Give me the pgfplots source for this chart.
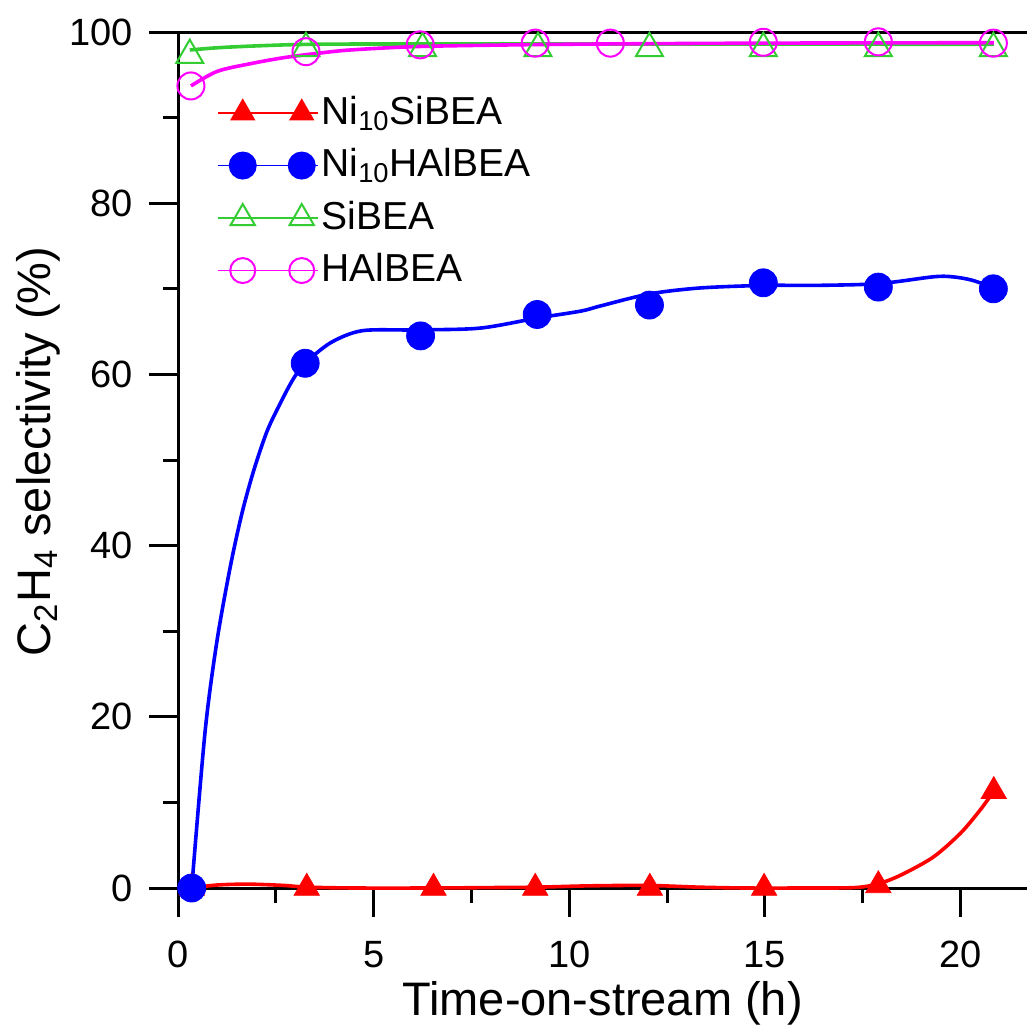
\documentclass[border=0pt]{standalone}
\usepackage{pgfplots}
\pgfplotsset{compat=1.18}
\usepackage{fontspec}
\setmainfont{Liberation Sans}
\definecolor{cred}{RGB}{255,0,0}
\definecolor{cblue}{RGB}{0,0,255}
\definecolor{cgreen}{RGB}{51,204,51}
\definecolor{cmag}{RGB}{255,0,255}
\pgfplotsset{
  legtwo/.style n args={3}{legend image code/.code={
    \draw[#1, line width=0.75pt] (0pt,5.5pt) -- (50pt,5.5pt);
    \draw[#1, only marks, mark=#2, mark size=#3, mark options={solid, line width=1pt}] plot coordinates {(12.5pt,5.5pt) (42pt,5.5pt)};}},
}
\begin{document}
\begin{tikzpicture}
\begin{axis}[
  scale only axis, width=424.5pt, height=428pt,
  xmin=0, xmax=21.7, ymin=0, ymax=100,
  axis x line=bottom, axis y line=left,
  axis line style={-, line width=1.5pt},
  clip=false,
  xtick={0,5,10,15,20}, minor x tick num=1,
  ytick={0,20,40,60,80,100}, minor y tick num=1,
  tick align=outside, xtick align=outside, ytick align=outside,
  major tick length=14.5pt, minor tick length=7.5pt,
  tick style={black, line width=1.5pt},
  /pgf/number format/assume math mode=true,
  tick label style={font=\fontsize{19}{22}\selectfont},
  xticklabel style={anchor=base, inner sep=0pt, yshift=-25pt},
  yticklabel style={anchor=east, inner sep=0pt, xshift=-8pt},
  label style={font=\fontsize{23.5}{28}\selectfont},
  xlabel={Time-on-stream (h)},
  ylabel={C\textsubscript{2}H\textsubscript{4} selectivity (\%)},
  xlabel style={at={(rel axis cs:0.5,-0.1484)}, anchor=base},
  ylabel style={at={(rel axis cs:-0.1508,0.51)}, anchor=base},
  legend style={
    at={(rel axis cs:0.0459,0.9252)}, anchor=north west,
    draw=none, fill=none, inner sep=0pt, outer sep=0pt,
    row sep=7.25pt, column sep=1.5pt,
    font=\fontsize{19.5}{23}\selectfont,
    nodes={anchor=base west, inner sep=0pt, text height=14pt, text depth=5pt},
  },
]
% red markers (Ni10SiBEA)
\addplot[only marks, mark=triangle*, mark size=7.3pt, color=cred,
  legtwo={cred}{triangle*}{6.35pt}]
  coordinates {(0.35,0) (3.29,0) (6.53,0) (9.13,0) (12.06,0) (14.98,0) (17.9,0.3) (20.85,11.3)};
% blue curve
\addplot[cblue, line width=1.8pt, smooth, tension=0.5, forget plot] coordinates {
  (0.35,0) (0.69,18.2) (0.99,28.7) (1.33,37.4) (1.63,43.7) (1.93,48.7) (2.27,53.3)
  (2.61,56.6) (2.95,59.5) (3.25,61.3)
  (3.9,63.7) (4.7,65.1) (6.0,65.2) (7.7,65.4) (9.2,66.6) (10.3,67.4) (10.8,68.0)
  (12.05,69.4) (13.35,70.1) (15.0,70.4) (16.3,70.4) (17.9,70.6) (19.3,71.4)
  (19.8,71.4) (20.3,71.0) (20.85,70.1)};
% blue markers (Ni10HAlBEA)
\addplot[only marks, mark=*, mark size=7pt, color=cblue,
  legtwo={cblue}{*}{6.5pt}]
  coordinates {(0.35,0) (3.25,61.3) (6.2,64.5) (9.18,67.0) (12.05,68.1) (14.96,70.7) (17.9,70.2) (20.84,70.0)};
% red curve
\addplot[cred, line width=1.8pt, smooth, tension=0.5, forget plot] coordinates {
  (0.35,0) (1.0,0.35) (1.8,0.45) (2.7,0.3) (3.3,0.1) (4.5,0) (6.5,0) (8,0.05)
  (9.2,0.1) (10.5,0.25) (12.0,0.3) (13.3,0.1) (14.5,0) (16,0) (17.3,0.05)
  (17.9,0.5) (18.47,1.5) (19.3,3.6) (20.0,6.4) (20.5,9.1) (20.85,11.3)};
% green curve
\addplot[cgreen, line width=1.8pt, smooth, tension=0.5, forget plot] coordinates {
  (0.3,97.9) (1.0,98.16) (1.9,98.36) (3.2,98.55) (5,98.6) (10,98.6) (15,98.6) (20.85,98.55)};
% green markers (SiBEA)
\addplot[only marks, mark=triangle, mark size=7.75pt, color=cgreen, mark options={line width=1pt},
  legtwo={cgreen}{triangle}{7pt}]
  coordinates {(0.3,97.3) (3.27,98.1) (6.25,98.1) (9.2,98.1) (12.05,98.1) (14.96,98.1) (17.9,98.1) (20.84,98.1)};
% magenta curve
\addplot[cmag, line width=1.8pt, smooth, tension=0.5, forget plot] coordinates {
  (0.33,93.7) (1.0,95.4) (1.85,96.3) (2.7,97.0) (3.55,97.5) (4.4,97.9) (6.1,98.3)
  (8.6,98.5) (10.8,98.6) (15,98.7) (20.85,98.75)};
% magenta markers (HAlBEA)
\addplot[only marks, mark=o, mark size=6.75pt, color=cmag, mark options={line width=1pt},
  legtwo={cmag}{o}{6.25pt}]
  coordinates {(0.33,93.7) (3.27,97.7) (6.19,98.5) (9.13,98.7) (11.05,98.7) (14.96,98.8) (17.9,98.85) (20.84,98.7)};
\legend{Ni\textsubscript{10}SiBEA, Ni\textsubscript{10}HAlBEA, SiBEA, HAlBEA}
\draw[black, line width=1.5pt] (rel axis cs:0,1) -- (rel axis cs:1,1);
\coordinate (bbBL) at (rel axis cs:-0.2097,-0.1659);
\coordinate (bbTR) at (rel axis cs:1,1.0374);
\end{axis}
\pgfresetboundingbox
\useasboundingbox (bbBL) rectangle (bbTR);
\end{tikzpicture}
\end{document}
